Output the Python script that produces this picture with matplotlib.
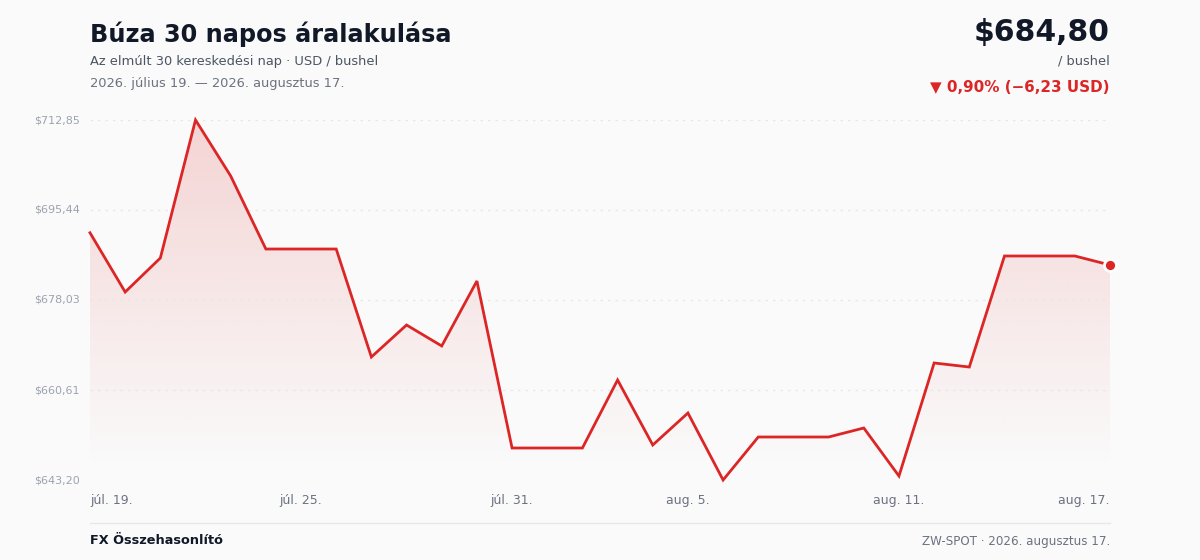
import matplotlib
matplotlib.use("Agg")
import matplotlib.pyplot as plt
import matplotlib.transforms as mtransforms
import numpy as np
from matplotlib.patches import Polygon

days = list(range(30))
prices = [691.03, 679.57, 686.15, 712.85, 702.02, 687.89, 687.89, 687.89, 667.00, 673.19,
          669.13, 681.70, 649.39, 649.39, 649.39, 662.55, 649.97, 656.16, 643.20, 651.52,
          651.52, 651.52, 653.26, 643.97, 665.84, 665.06, 686.54, 686.54, 686.54, 684.80]
tick_idx = [0, 6, 12, 17, 23, 29]
tick_labels = ["júl. 19.", "júl. 25.", "júl. 31.", "aug. 5.", "aug. 11.", "aug. 17."]
ytick_vals = [643.20, 660.61, 678.03, 695.44, 712.85]
ytick_labels = ["$643,20", "$660,61", "$678,03", "$695,44", "$712,85"]

BG = "#fafafa"
RED = "#dc2626"
fig = plt.figure(figsize=(12, 5.6), dpi=100, facecolor=BG)
W, H = 1200, 560
ax = fig.add_axes([90 / W, 80 / H, 1020 / W, 360 / H])
ax.set_facecolor(BG)
ymin, ymax = min(prices), max(prices)
ax.set_xlim(0, 29)
ax.set_ylim(ymin, ymax)

# gradient fill (opaque at top, transparent at bottom)
t = np.linspace(0, 1, 256)  # 0 at top row, 1 at bottom row
rgba = np.zeros((256, 1, 4))
rgba[..., 0] = 0xdc / 255
rgba[..., 1] = 0x26 / 255
rgba[..., 2] = 0x26 / 255
rgba[:, 0, 3] = 0.18 * np.clip(1 - t / 0.97, 0, 1)
im = ax.imshow(rgba, extent=[0, 29, ymin, ymax], aspect="auto", origin="upper",
               zorder=1, interpolation="bilinear")
poly = Polygon(list(zip(days, prices)) + [(29, ymin), (0, ymin)], closed=True,
               facecolor="none", edgecolor="none", transform=ax.transData)
ax.add_patch(poly)
im.set_clip_path(poly)

for v in ytick_vals:
    ax.axhline(v, color="#e5e7eb", lw=0.9, ls=(0, (2, 4)), zorder=2)

ax.plot(days, prices, color=RED, lw=2, zorder=3, clip_on=False, solid_joinstyle="miter")
ax.scatter([days[-1]], [prices[-1]], s=75, color=RED, edgecolor="white", linewidth=2,
           zorder=4, clip_on=False)

for s in ax.spines.values():
    s.set_visible(False)
ax.set_xticks([])
ax.set_yticks([])

for v, lab in zip(ytick_vals, ytick_labels):
    ax.text(-0.01, v, lab, transform=ax.get_yaxis_transform(),
            ha="right", va="center", fontsize=8, color="#9ca3af")
xoff = ax.transData + mtransforms.ScaledTranslation(0, -14 / 100, fig.dpi_scale_trans)
for i, lab in zip(tick_idx, tick_labels):
    ha = "left" if i == 0 else ("right" if i == 29 else "center")
    ax.text(days[i], ymin, lab, ha=ha, va="top", fontsize=9, color="#6b7280", transform=xoff)

# header
fig.text(90 / W, 1 - 34 / H, "Búza 30 napos áralakulása", fontsize=17.3, fontweight="bold",
         color="#111827", ha="left", va="center")
fig.text(90 / W, 1 - 61 / H, "Az elmúlt 30 kereskedési nap · USD / bushel", fontsize=9.4,
         color="#4b5563", ha="left", va="center")
fig.text(90 / W, 1 - 83 / H, "2026. július 19. — 2026. augusztus 17.", fontsize=9.4,
         color="#6b7280", ha="left", va="center")
fig.text(1110 / W, 1 - 32 / H, "$684,80", fontsize=21.5, fontweight="bold",
         color="#111827", ha="right", va="center")
fig.text(1110 / W, 1 - 61 / H, "/ bushel", fontsize=9.4, color="#4b5563", ha="right", va="center")
fig.text(1110 / W, 1 - 87 / H, "▼ 0,90% (−6,23 USD)", fontsize=10.9, fontweight="bold",
         color=RED, ha="right", va="center")

# footer
fig.add_artist(plt.Line2D([90 / W, 1110 / W], [1 - 523 / H, 1 - 523 / H], color="#e5e7eb", lw=1))
fig.text(90 / W, 1 - 541 / H, "FX Összehasonlító", fontsize=9.3, fontweight="bold",
         color="#111827", ha="left", va="center")
fig.text(1110 / W, 1 - 541 / H, "ZW-SPOT · 2026. augusztus 17.", fontsize=8.6,
         color="#6b7280", ha="right", va="center")

fig.savefig("out.png", dpi=100, facecolor=BG)
